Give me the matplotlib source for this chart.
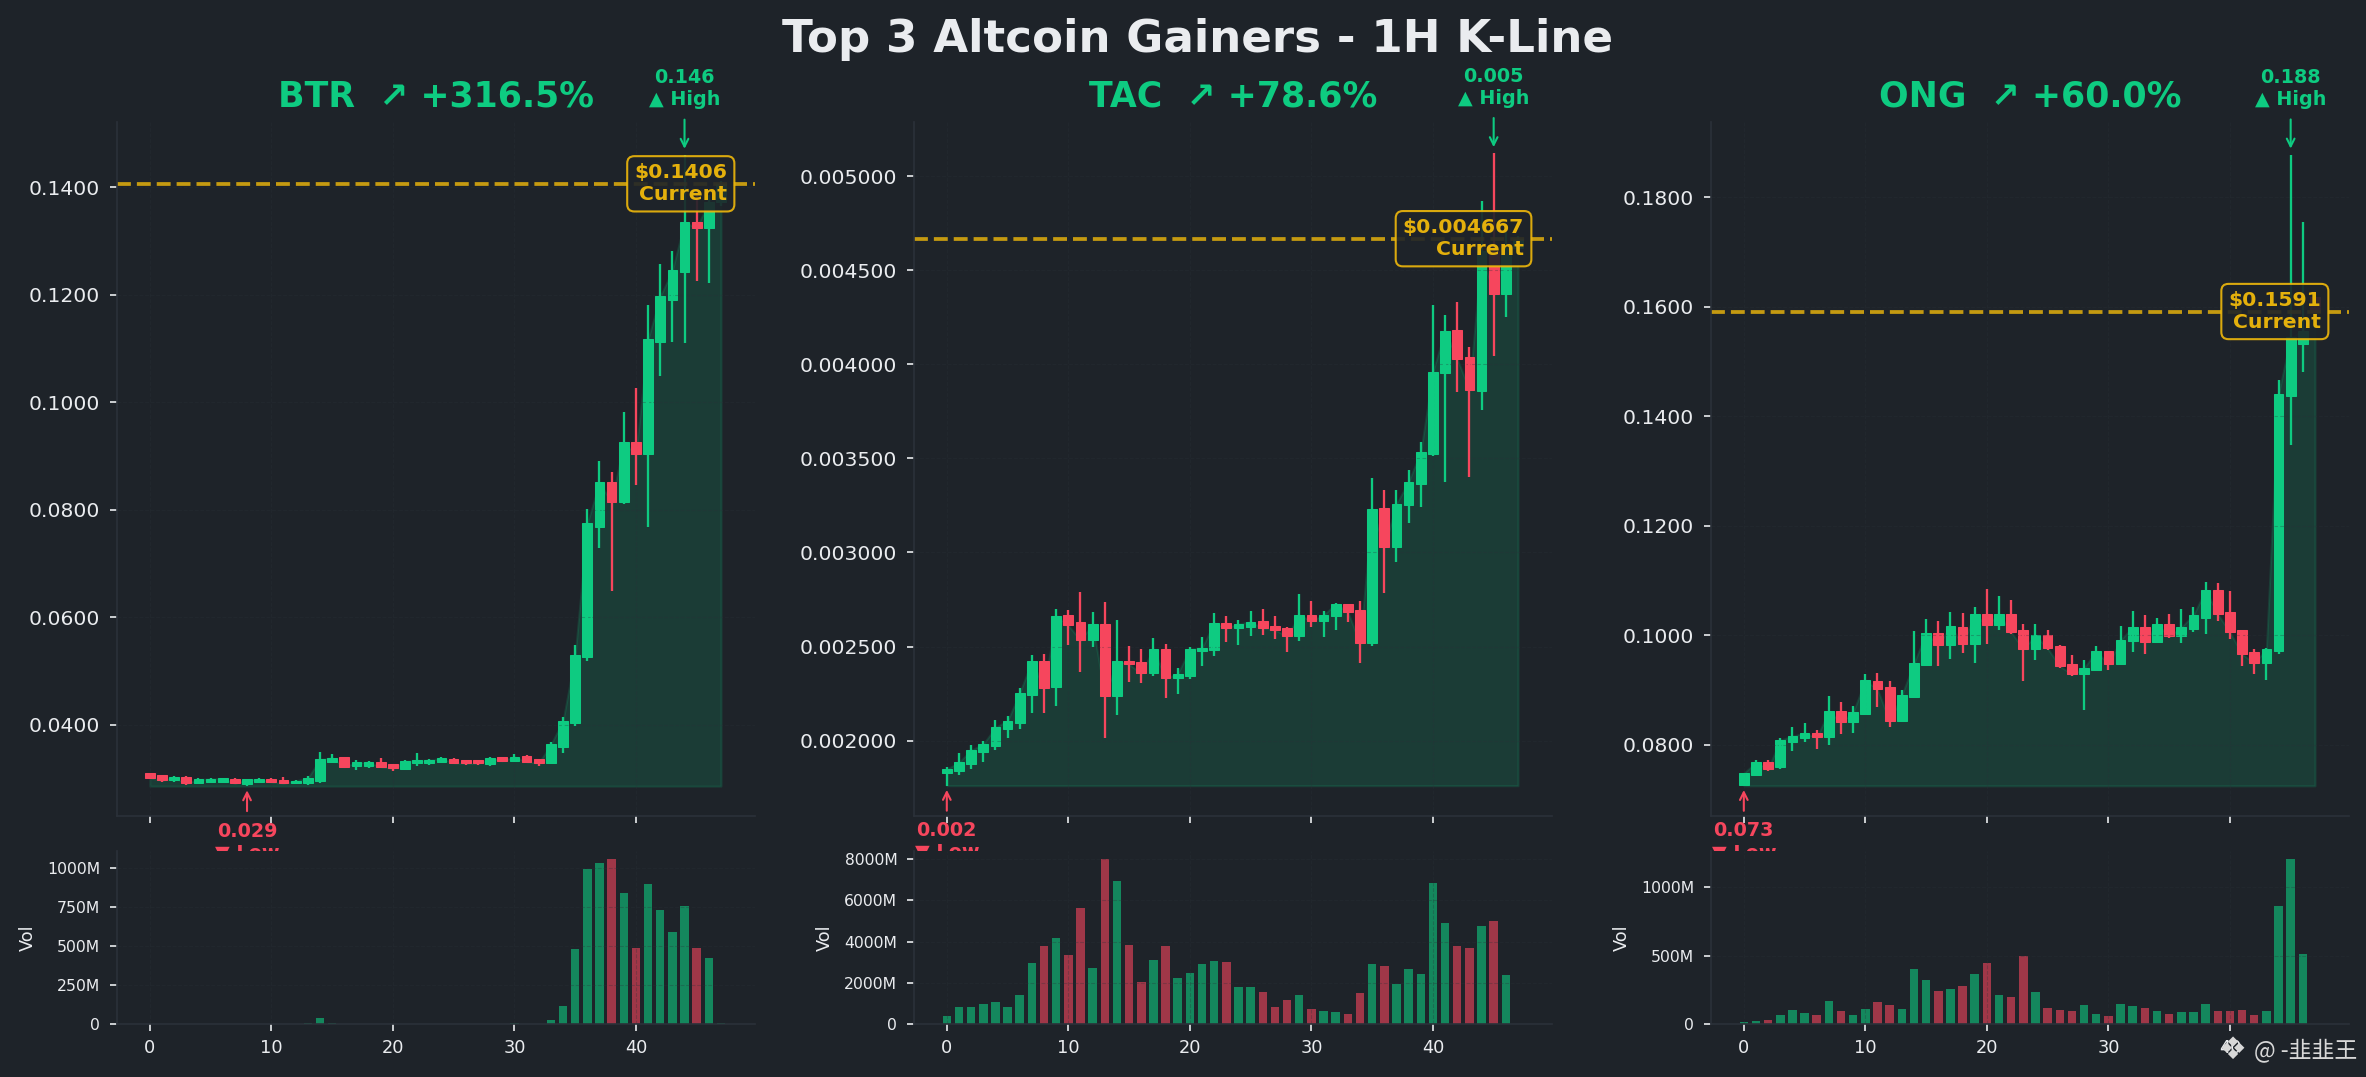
import matplotlib
matplotlib.use("Agg")
import matplotlib.pyplot as plt
from matplotlib.patches import Rectangle

# colors
BG = "#1e2329"
GREEN = "#0ecb81"
RED = "#f6465d"
GOLD = "#f0b90b"
TEXT = "#eaecef"
LINE = "#2b3139"

# BTR
btr_open = [0.03092, 0.03054, 0.02961, 0.03017, 0.02906, 0.02930, 0.02936, 0.02986, 0.02899, 0.02924, 0.02980, 0.02961,
            0.02906, 0.02912, 0.02955, 0.03309, 0.03389, 0.03222, 0.03234, 0.03296, 0.03259, 0.03178, 0.03278, 0.03278,
            0.03296, 0.03352, 0.03333, 0.03333, 0.03271, 0.03389, 0.03327, 0.03408, 0.03352, 0.03290, 0.03587, 0.04034,
            0.05249, 0.07680, 0.08505, 0.08133, 0.09249, 0.09026, 0.11122, 0.11904, 0.12412, 0.13343, 0.13243, 0.13730]
btr_high = [0.03092, 0.03054, 0.03042, 0.03042, 0.02998, 0.03005, 0.03011, 0.02998, 0.02980, 0.03005, 0.03005, 0.03023,
            0.02968, 0.03036, 0.03489, 0.03445, 0.03389, 0.03340, 0.03327, 0.03371, 0.03265, 0.03333, 0.03464, 0.03358,
            0.03389, 0.03377, 0.03340, 0.03340, 0.03396, 0.03396, 0.03445, 0.03427, 0.03358, 0.03675, 0.04146, 0.05473,
            0.08003, 0.08896, 0.08691, 0.09808, 0.10254, 0.11798, 0.12561, 0.12809, 0.14595, 0.13850, 0.13850, 0.14120]
btr_low = [0.02992, 0.02936, 0.02936, 0.02881, 0.02893, 0.02906, 0.02918, 0.02893, 0.02856, 0.02912, 0.02912, 0.02893,
           0.02893, 0.02881, 0.02918, 0.03290, 0.03197, 0.03160, 0.03197, 0.03197, 0.03135, 0.03160, 0.03234, 0.03253,
           0.03278, 0.03271, 0.03253, 0.03253, 0.03234, 0.03309, 0.03302, 0.03290, 0.03228, 0.03271, 0.03476, 0.03972,
           0.05187, 0.07290, 0.06490, 0.08110, 0.08462, 0.07680, 0.10490, 0.11110, 0.11091, 0.12257, 0.12208, 0.13650]
btr_close = [0.03011, 0.02961, 0.03017, 0.02906, 0.02980, 0.02992, 0.02998, 0.02906, 0.02980, 0.02980, 0.02930, 0.02906,
             0.02955, 0.03005, 0.03352, 0.03383, 0.03216, 0.03296, 0.03296, 0.03216, 0.03185, 0.03315, 0.03333, 0.03340,
             0.03371, 0.03290, 0.03278, 0.03278, 0.03371, 0.03327, 0.03402, 0.03309, 0.03284, 0.03631, 0.04071, 0.05287,
             0.07742, 0.08505, 0.08133, 0.09249, 0.09026, 0.11166, 0.11966, 0.12449, 0.13343, 0.13243, 0.13730, 0.14060]
btr_vol = [1, 1, 1, 1, 1, 1, 1, 1, 1, 1, 1, 1, 2, 9, 41, 9, 3, 2, 2, 1, 1, 2, 2, 1, 1, 1, 1, 1, 2, 1, 9, 2, 3, 28, 118,
           479, 994, 1032, 1058, 839, 491, 897, 730, 588, 755, 491, 421, 9]

# TAC
tac_open = [0.001826, 0.001839, 0.001874, 0.001940, 0.001970, 0.002060, 0.002092, 0.002241, 0.002424, 0.002284,
            0.002668, 0.002631, 0.002534, 0.002621, 0.002238, 0.002424, 0.002418, 0.002358, 0.002488, 0.002332,
            0.002342, 0.002475, 0.002481, 0.002626, 0.002598, 0.002603, 0.002637, 0.002610, 0.002599, 0.002555,
            0.002668, 0.002637, 0.002661, 0.002727, 0.002695, 0.002518, 0.003238, 0.003030, 0.003253, 0.003365,
            0.003521, 0.003954, 0.004184, 0.004041, 0.003860, 0.004600, 0.004371, 0.004620]
tac_high = [0.001858, 0.001934, 0.001977, 0.001998, 0.002110, 0.002131, 0.002280, 0.002456, 0.002461, 0.002700,
            0.002695, 0.002791, 0.002684, 0.002738, 0.002642, 0.002504, 0.002488, 0.002546, 0.002514, 0.002387,
            0.002498, 0.002551, 0.002679, 0.002663, 0.002642, 0.002690, 0.002700, 0.002663, 0.002605, 0.002780,
            0.002743, 0.002690, 0.002732, 0.002727, 0.002743, 0.003395, 0.003333, 0.003333, 0.003440, 0.003589,
            0.004317, 0.004264, 0.004333, 0.004089, 0.004869, 0.005120, 0.004700, 0.004680]
tac_low = [0.001761, 0.001817, 0.001848, 0.001885, 0.001949, 0.002016, 0.002064, 0.002145, 0.002145, 0.002183,
           0.002507, 0.002364, 0.002496, 0.002012, 0.002135, 0.002312, 0.002305, 0.002342, 0.002225, 0.002246,
           0.002326, 0.002395, 0.002449, 0.002523, 0.002507, 0.002555, 0.002560, 0.002539, 0.002470, 0.002528,
           0.002603, 0.002550, 0.002587, 0.002629, 0.002411, 0.002502, 0.002784, 0.002949, 0.003156, 0.003241,
           0.003514, 0.003374, 0.003853, 0.003401, 0.003755, 0.004046, 0.004252, 0.004600]
tac_close = [0.001849, 0.001885, 0.001950, 0.001982, 0.002071, 0.002106, 0.002254, 0.002424, 0.002278, 0.002663,
             0.002613, 0.002534, 0.002621, 0.002238, 0.002424, 0.002406, 0.002358, 0.002488, 0.002332, 0.002355,
             0.002488, 0.002493, 0.002626, 0.002599, 0.002621, 0.002631, 0.002599, 0.002589, 0.002555, 0.002668,
             0.002637, 0.002668, 0.002727, 0.002684, 0.002518, 0.003232, 0.003030, 0.003259, 0.003376, 0.003535,
             0.003961, 0.004179, 0.004028, 0.003865, 0.004600, 0.004371, 0.004620, 0.004667]
tac_vol = [372, 810, 810, 955, 1052, 810, 1392, 2947, 3773, 4161, 3335, 5619, 2704, 8000, 6930, 3821, 2024, 3093, 3773,
           2218, 2461, 2899, 3044, 2996, 1781, 1781, 1538, 810, 1150, 1392, 712, 615, 567, 470, 1490, 2899, 2801, 1927,
           2655, 2412, 6833, 4890, 3773, 3676, 4744, 4987, 2364, 0]

# ONG
ong_open = [0.07275, 0.07446, 0.07677, 0.07586, 0.08049, 0.08116, 0.08213, 0.08134, 0.08615, 0.08414, 0.08560, 0.09163,
            0.09053, 0.08426, 0.08870, 0.09455, 0.10039, 0.09820, 0.10149, 0.09838, 0.10386, 0.10185, 0.10386, 0.10094,
            0.09747, 0.10003, 0.09802, 0.09473, 0.09290, 0.09364, 0.09711, 0.09473, 0.09893, 0.10149, 0.09869, 0.10204,
            0.09985, 0.10112, 0.10313, 0.10825, 0.10423, 0.10094, 0.09692, 0.09491, 0.09711, 0.14369, 0.15320, 0.16170]
ong_high = [0.07482, 0.07720, 0.07720, 0.08122, 0.08323, 0.08396, 0.08268, 0.08889, 0.08779, 0.08706, 0.09291, 0.09309,
            0.09163, 0.08998, 0.10076, 0.10295, 0.10259, 0.10423, 0.10405, 0.10514, 0.10843, 0.10715, 0.10642, 0.10204,
            0.10204, 0.10094, 0.09820, 0.09638, 0.09546, 0.09802, 0.09711, 0.10167, 0.10441, 0.10368, 0.10313, 0.10386,
            0.10478, 0.10514, 0.10971, 0.10953, 0.10806, 0.10094, 0.09747, 0.09765, 0.14661, 0.18770, 0.17550, 0.16170]
ong_low = [0.07251, 0.07434, 0.07513, 0.07567, 0.07878, 0.08043, 0.07915, 0.07988, 0.08189, 0.08207, 0.08548, 0.08682,
           0.08316, 0.08408, 0.08864, 0.09443, 0.09431, 0.09558, 0.09668, 0.09485, 0.09832, 0.10088, 0.10015, 0.09157,
           0.09540, 0.09723, 0.09394, 0.09248, 0.08627, 0.09339, 0.09358, 0.09467, 0.09686, 0.09650, 0.09851, 0.09948,
           0.09851, 0.10058, 0.10015, 0.10259, 0.09930, 0.09437, 0.09291, 0.09181, 0.09650, 0.13468, 0.14800, 0.15890]
ong_close = [0.07482, 0.07677, 0.07567, 0.08085, 0.08158, 0.08213, 0.08134, 0.08615, 0.08414, 0.08596, 0.09181, 0.09011,
             0.08432, 0.08907, 0.09491, 0.10039, 0.09820, 0.10167, 0.09838, 0.10386, 0.10185, 0.10386, 0.10058, 0.09747,
             0.10003, 0.09759, 0.09437, 0.09290, 0.09400, 0.09711, 0.09473, 0.09911, 0.10149, 0.09875, 0.10204, 0.09985,
             0.10149, 0.10368, 0.10825, 0.10386, 0.10058, 0.09656, 0.09491, 0.09747, 0.14405, 0.15440, 0.15560, 0.15910]
ong_vol = [12, 20, 27, 63, 100, 78, 63, 166, 93, 63, 107, 159, 137, 107, 400, 320, 239, 254, 276, 364, 444, 210, 195, 495,
           232, 115, 100, 93, 137, 71, 56, 144, 129, 115, 93, 71, 85, 85, 144, 93, 93, 100, 63, 93, 861, 1205, 510, 0]

# per panel labels and ticks
symbols = ["BTR", "TAC", "ONG"]
changes = ["+316.5%", "+78.6%", "+60.0%"]
price_ticks = [[0.04, 0.06, 0.08, 0.10, 0.12, 0.14],
               [0.002, 0.0025, 0.003, 0.0035, 0.004, 0.0045, 0.005],
               [0.08, 0.10, 0.12, 0.14, 0.16, 0.18]]
price_limits = [(0.0230, 0.1521), (0.001600, 0.005287), (0.0670, 0.1937)]
price_decimals = [4, 6, 4]
vol_ticks = [[0, 250, 500, 750, 1000], [0, 2000, 4000, 6000, 8000], [0, 500, 1000]]
time_ticks = [0, 10, 20, 30, 40]

opens = [btr_open, tac_open, ong_open]
highs = [btr_high, tac_high, ong_high]
lows = [btr_low, tac_low, ong_low]
closes = [btr_close, tac_close, ong_close]
vols = [btr_vol, tac_vol, ong_vol]

W, H = 2366, 1077
DPI = 150
panel_left = [117, 914, 1711]
panel_width = 638


def px_axes(fig, left, top, right, bottom):
    return fig.add_axes([left / W, 1 - bottom / H, (right - left) / W, (bottom - top) / H])


def style_axes(ax):
    ax.set_facecolor(BG)
    ax.spines["top"].set_visible(False)
    ax.spines["right"].set_visible(False)
    ax.spines["left"].set_color(LINE)
    ax.spines["bottom"].set_color(LINE)
    ax.grid(True, color=LINE, alpha=0.3, linewidth=0.5, linestyle="--")
    ax.set_xlim(-2.7, 49.8)
    ax.set_xticks(time_ticks)


fig = plt.figure(figsize=(W / DPI, H / DPI), dpi=DPI, facecolor=BG)
fig.text(1197 / W, 1 - 39.5 / H, "Top 3 Altcoin Gainers - 1H K-Line", color=TEXT,
         fontsize=21.7, fontweight="bold", ha="center", va="center")

for p in range(3):
    o, h, l, c, v = opens[p], highs[p], lows[p], closes[p], vols[p]
    n = len(c)
    x = list(range(n))
    colors = [GREEN if c[i] >= o[i] else RED for i in x]
    left = panel_left[p]

    # price panel
    ax = px_axes(fig, left, 122, left + panel_width, 816)
    style_axes(ax)
    ax.fill_between(x, c, min(l), color=GREEN, alpha=0.15)
    for i in x:
        ax.plot([i, i], [l[i], h[i]], color=colors[i], linewidth=1.1, solid_capstyle="butt")
        ax.add_patch(Rectangle((i - 0.4, min(o[i], c[i])), 0.8, abs(c[i] - o[i]),
                               facecolor=colors[i], edgecolor=colors[i], linewidth=0.5))
    ax.set_ylim(*price_limits[p])
    ax.set_yticks(price_ticks[p])
    ax.set_yticklabels([f"{t:.{price_decimals[p]}f}" for t in price_ticks[p]])
    ax.tick_params(axis="y", colors=TEXT, labelsize=9.8, pad=4.5)
    ax.tick_params(axis="x", colors=TEXT, labelbottom=False)
    ax.set_title(f"{symbols[p]}  ↗ {changes[p]}", color=GREEN, fontsize=16.7, fontweight="bold", pad=7.5)

    # current price
    ax.axhline(c[-1], color=GOLD, linestyle="--", linewidth=1.8, alpha=0.8)
    ax.annotate(f"${c[-1]:.{price_decimals[p]}f}\nCurrent", xy=(n - 1, c[-1]), xytext=(3, 0),
                textcoords="offset points", ha="right", va="center", multialignment="right",
                fontsize=9.8, fontweight="bold", color=GOLD, alpha=0.95, zorder=10,
                bbox=dict(boxstyle="round,pad=0.35", facecolor=BG, edgecolor=GOLD, alpha=0.9))

    # high and low marks
    hi = h.index(max(h))
    lo = l.index(min(l))
    ax.annotate(f"{h[hi]:.3f}\n▲ High", xy=(hi, h[hi]), xytext=(0, 22), textcoords="offset points",
                ha="center", va="bottom", fontsize=9.2, fontweight="bold", color=GREEN, annotation_clip=False,
                arrowprops=dict(arrowstyle="->", color=GREEN, lw=1, shrinkA=3, shrinkB=3))
    ax.annotate(f"{l[lo]:.3f}\n▼ Low", xy=(lo, l[lo]), xytext=(0, -17), textcoords="offset points",
                ha="center", va="top", fontsize=9.2, fontweight="bold", color=RED, annotation_clip=False,
                arrowprops=dict(arrowstyle="->", color=RED, lw=1, shrinkA=3, shrinkB=2))

    # volume panel, drawn after so it hides the low label's lower part
    ax2 = px_axes(fig, left, 851, left + panel_width, 1024)
    style_axes(ax2)
    ax2.bar(x, v, width=0.7, color=colors, alpha=0.6)
    ax2.set_ylim(0, max(v) * 1.05)
    ax2.set_yticks(vol_ticks[p])
    ax2.set_yticklabels([f"{t}M" if t else "0" for t in vol_ticks[p]])
    ax2.tick_params(axis="y", colors=TEXT, labelsize=7.5, pad=4.5)
    ax2.tick_params(axis="x", colors=TEXT, labelsize=8.5)
    ax2.set_ylabel("Vol", color=TEXT, fontsize=8.5, labelpad=5)

# watermark
fig.text(2232 / W, 1 - 1050 / H, "❖", color="#d8d8d8", fontsize=15, ha="center", va="center",
         family=["DejaVu Sans"])
fig.text(2254 / W, 1 - 1050 / H, "@ -韭韭王", color="#d8d8d8", fontsize=11, ha="left", va="center",
         family=["Noto Sans CJK SC", "DejaVu Sans"])

fig.savefig("out.png", dpi=DPI, facecolor=BG)
